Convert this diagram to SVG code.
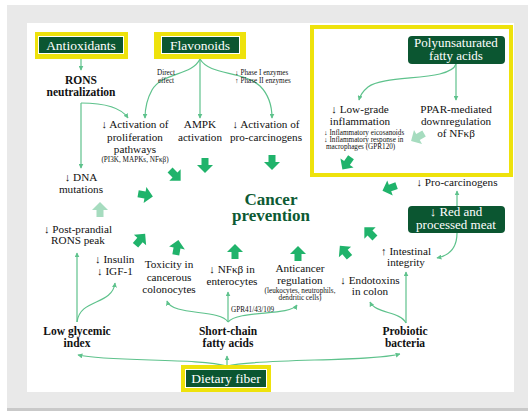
<svg xmlns="http://www.w3.org/2000/svg" xmlns:xlink="http://www.w3.org/1999/xlink" width="528" height="414" viewBox="0 0 528 414">
<style>
text{font-family:"Liberation Serif","Times New Roman",serif;fill:#111;}
.t{font-size:11.2px;text-anchor:middle;}
.tl{font-size:11.2px;}
.b{font-size:11.5px;font-weight:bold;text-anchor:middle;}
.s{font-size:7.2px;text-anchor:middle;}
.sl{font-size:7.2px;}
.box{fill:#0b5631;}
.bt{fill:#fff;font-size:13.5px;text-anchor:middle;}
.bt2{fill:#fff;font-size:13px;text-anchor:middle;}
.yel{fill:#eee20c;}
.con{fill:none;stroke:#5ec28c;stroke-width:1.2;}
.ba{fill:#20b36b;}
.pale{fill:#a6dcbf;}
.cp{font-size:17px;font-weight:bold;text-anchor:middle;fill:#0d5a33;}
</style>
<defs>
<marker id="ah" viewBox="0 0 8 8" refX="7" refY="4" markerWidth="5" markerHeight="5" orient="auto" markerUnits="userSpaceOnUse">
<path d="M0,0 L8,4 L0,8 Z" fill="#5ec28c"/>
</marker>
<path id="bk" d="M0,-8 L8,0 L3.5,0 L3.5,7 L-3.5,7 L-3.5,0 L-8,0 Z"/>
</defs>
<rect x="7" y="5" width="521" height="406" fill="#e9e9e9"/>
<rect x="7" y="408" width="521" height="3" fill="#c9c9c9"/>
<rect x="27" y="23" width="487" height="369" fill="#ffffff"/>

<g id="connectors">
<path class="con" marker-end="url(#ah)" d="M81,59 L81,70"/>
<path class="con" marker-end="url(#ah)" d="M81,103 L81,168"/>
<path class="con" marker-end="url(#ah)" d="M81,103 C100,103 120,106 128,118"/>
<path class="con" marker-end="url(#ah)" d="M200,59 L200,118"/>
<path class="con" marker-end="url(#ah)" d="M200,59 C192,76 162,72 152,90 C147,99 145,108 145,118"/>
<path class="con" marker-end="url(#ah)" d="M200,59 C210,76 242,70 260,86 C269,95 272,108 272,118"/>
<path class="con" marker-end="url(#ah)" d="M456,64 L456,100"/>
<path class="con" marker-end="url(#ah)" d="M456,64 C450,82 385,74 368,87 C362,92 360,96 359,100"/>
<path class="con" marker-end="url(#ah)" d="M457,207 L457,191"/>
<path class="con" marker-end="url(#ah)" d="M457,233 C457,250 447,256 437,258"/>
<path class="con" marker-end="url(#ah)" d="M406,323 L406,272"/>
<path class="con" marker-end="url(#ah)" d="M406,323 C400,311 376,314 370,302"/>
<path class="con" marker-end="url(#ah)" d="M227,366 L227,356"/>
<path class="con" marker-end="url(#ah)" d="M227,366 C200,358 110,362 78,355"/>
<path class="con" marker-end="url(#ah)" d="M227,366 C260,358 370,362 400,354"/>
<path class="con" marker-end="url(#ah)" d="M228,322 L228,292"/>
<path class="con" marker-end="url(#ah)" d="M228,322 C220,309 172,316 167,301"/>
<path class="con" marker-end="url(#ah)" d="M228,322 C238,310 290,316 297,305"/>
<path class="con" marker-end="url(#ah)" d="M77,322 L77,253"/>
<path class="con" marker-end="url(#ah)" d="M77,322 C80,298 112,306 115,283"/>
<text class="sl" x="231" y="312">GPR41/43/109</text>
<text class="s" x="166" y="75">Direct</text>
<text class="s" x="166" y="83">effect</text>
<text class="sl" x="235" y="75">↓ Phase I enzymes</text>
<text class="sl" x="235" y="83">↑ Phase II enzymes</text>
</g>

<g id="block-arrows">
<use href="#bk" class="pale" transform="translate(100,210) rotate(0)"/>
<use href="#bk" class="ba" transform="translate(145,195) rotate(100)"/>
<use href="#bk" class="ba" transform="translate(175,175) rotate(135)"/>
<use href="#bk" class="ba" transform="translate(205,165) rotate(180)"/>
<use href="#bk" class="ba" transform="translate(272,162) rotate(180)"/>
<use href="#bk" class="ba" transform="translate(347,163) rotate(215)"/>
<use href="#bk" class="pale" transform="translate(418,137) rotate(240)"/>
<use href="#bk" class="ba" transform="translate(390,188) rotate(250)"/>
<use href="#bk" class="ba" transform="translate(370,233) rotate(315)"/>
<use href="#bk" class="ba" transform="translate(345,252) rotate(320)"/>
<use href="#bk" class="ba" transform="translate(298,254) rotate(0)"/>
<use href="#bk" class="ba" transform="translate(235,252) rotate(0)"/>
<use href="#bk" class="ba" transform="translate(177,248) rotate(10)"/>
<use href="#bk" class="ba" transform="translate(140,240) rotate(40)"/>
</g>

<g id="antioxidants">
<rect class="yel" x="35" y="32" width="93" height="27"/>
<rect class="box" x="38.5" y="36.5" width="85" height="17" stroke="#fff" stroke-width="1"/>
<text class="bt" x="81" y="50">Antioxidants</text>
</g>
<g id="flavonoids">
<rect class="yel" x="154" y="32" width="92" height="27"/>
<rect class="box" x="161.5" y="36.5" width="78" height="17" stroke="#fff" stroke-width="1"/>
<text class="bt" x="200" y="50">Flavonoids</text>
</g>
<g id="rons">
<text class="b" x="81" y="84">RONS</text>
<text class="b" x="81" y="96">neutralization</text>
</g>
<g id="proliferation">
<text class="t" x="135" y="128">↓ Activation of</text>
<text class="t" x="135" y="141">proliferation</text>
<text class="t" x="135" y="153">pathways</text>
<text class="s" x="135" y="162">(PI3K, MAPKs, NFκβ)</text>
</g>
<g id="ampk">
<text class="t" x="200" y="128">AMPK</text>
<text class="t" x="200" y="141">activation</text>
</g>
<g id="procarc-activation">
<text class="t" x="266" y="128">↓ Activation of</text>
<text class="t" x="266" y="141">pro-carcinogens</text>
</g>
<g id="pufa-frame">
<rect x="312" y="27" width="199" height="148" fill="none" stroke="#eee20c" stroke-width="4"/>
</g>
<g id="pufa">
<rect class="box" x="408" y="36" width="97" height="28" rx="4"/>
<text class="bt2" x="456" y="47">Polyunsaturated</text>
<text class="bt2" x="456" y="60">fatty acids</text>
</g>
<g id="inflammation">
<text class="t" x="360" y="113">↓ Low-grade</text>
<text class="t" x="360" y="125">inflammation</text>
<text class="sl" x="324" y="135">↓ Inflammatory eicosanoids</text>
<text class="sl" x="324" y="142">↓ Inflammatory response in</text>
<text class="sl" x="326" y="149">macrophages (GPR120)</text>
</g>
<g id="ppar">
<text class="t" x="456" y="113">PPAR-mediated</text>
<text class="t" x="456" y="125">downregulation</text>
<text class="t" x="456" y="137">of NFκβ</text>
</g>
<g id="dna">
<text class="t" x="81" y="181">↓ DNA</text>
<text class="t" x="81" y="193">mutations</text>
</g>
<g id="cancer-prevention">
<text class="cp" x="271" y="205">Cancer</text>
<text class="cp" x="271" y="221">prevention</text>
</g>
<g id="procarcinogens">
<text class="t" x="457" y="186">↓ Pro-carcinogens</text>
</g>
<g id="red-meat">
<rect class="box" x="408" y="206" width="97" height="27" rx="4"/>
<text class="bt2" x="456" y="216">↓ Red and</text>
<text class="bt2" x="456" y="229">processed meat</text>
</g>
<g id="postprandial">
<text class="t" x="78" y="233">↓ Post-prandial</text>
<text class="t" x="78" y="244">RONS peak</text>
</g>
<g id="insulin">
<text class="tl" x="95" y="263">↓ Insulin</text>
<text class="tl" x="97" y="275">↓ IGF-1</text>
</g>
<g id="toxicity">
<text class="t" x="169" y="268">Toxicity in</text>
<text class="t" x="169" y="281">cancerous</text>
<text class="t" x="169" y="293">colonocytes</text>
</g>
<g id="nfkb">
<text class="t" x="232" y="273">↓ NFκβ in</text>
<text class="t" x="232" y="285">enterocytes</text>
</g>
<g id="anticancer">
<text class="t" x="300" y="272">Anticancer</text>
<text class="t" x="300" y="284">regulation</text>
<text class="s" x="300" y="293">(leukocytes, neutrophils,</text>
<text class="s" x="300" y="300">dendritic cells)</text>
</g>
<g id="intestinal">
<text class="t" x="406" y="255">↑ Intestinal</text>
<text class="t" x="406" y="266">integrity</text>
</g>
<g id="endotoxins">
<text class="t" x="370" y="284">↓ Endotoxins</text>
<text class="t" x="370" y="295">in colon</text>
</g>
<g id="low-gi">
<text class="b" x="77" y="335">Low glycemic</text>
<text class="b" x="77" y="347">index</text>
</g>
<g id="scfa">
<text class="b" x="228" y="335">Short-chain</text>
<text class="b" x="228" y="347">fatty acids</text>
</g>
<g id="probiotic">
<text class="b" x="405" y="335">Probiotic</text>
<text class="b" x="405" y="347">bacteria</text>
</g>
<g id="dietary-fiber">
<rect class="yel" x="181" y="365" width="90" height="27"/>
<rect class="box" x="185.5" y="369.5" width="81" height="18" stroke="#fff" stroke-width="1"/>
<text class="bt" x="226" y="383">Dietary fiber</text>
</g>
</svg>
